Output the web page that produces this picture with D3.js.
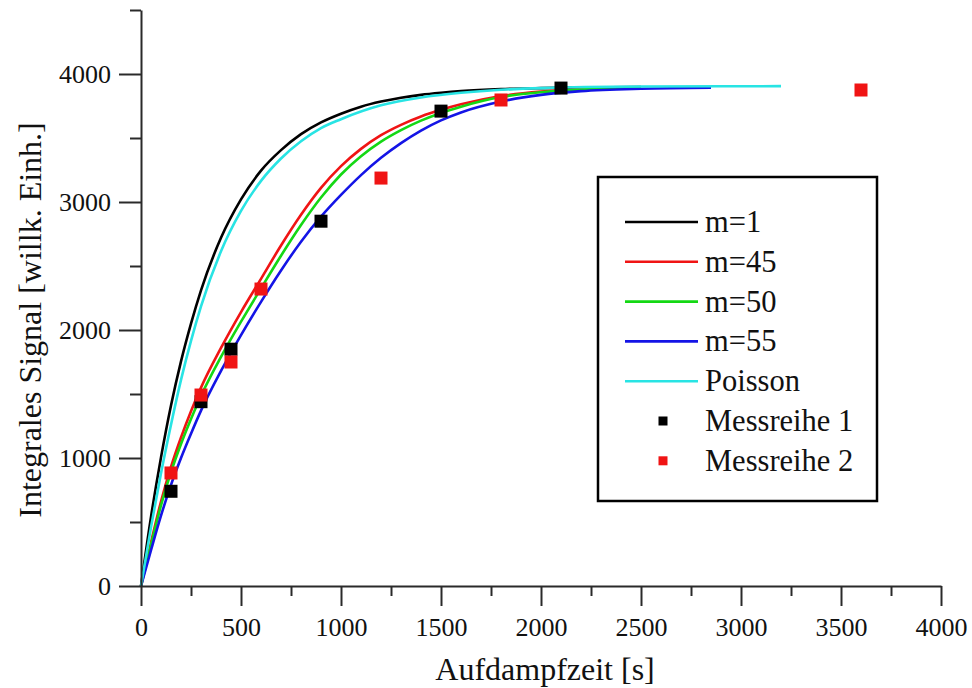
<!DOCTYPE html>
<html>
<head>
<meta charset="utf-8">
<script src="https://cdn.jsdelivr.net/npm/d3@7"></script>
<style>
  html, body { margin: 0; padding: 0; background: #fff; }
  svg { display: block; }
  svg text { font-family: "Liberation Serif", "Times New Roman", serif; }
</style>
</head>
<body>
<svg id="chart" width="972" height="688"></svg>
<script>
// ---- data ----
const timeGrid   = [0, 50, 100, 150, 200, 250, 300, 400, 500, 600, 700, 800, 900, 1000, 1100, 1200, 1300, 1400, 1500, 1600, 1800, 2000, 2200, 2500];
const m1Values   = [0, 540, 1005, 1410, 1755, 2050, 2310, 2720, 3020, 3245, 3405, 3530, 3622, 3690, 3745, 3785, 3815, 3837, 3853, 3866, 3882, 3890, 3895, 3898];
const m45Values  = [0, 340, 660, 930, 1160, 1365, 1550, 1860, 2140, 2400, 2660, 2900, 3110, 3280, 3415, 3522, 3603, 3668, 3720, 3763, 3828, 3863, 3880, 3890];
const m50Values  = [0, 320, 630, 890, 1110, 1305, 1485, 1790, 2065, 2325, 2580, 2820, 3035, 3215, 3358, 3472, 3562, 3636, 3696, 3745, 3820, 3858, 3878, 3890];
const blueGrid   = [0, 50, 100, 150, 200, 250, 300, 400, 500, 600, 700, 800, 900, 1000, 1100, 1200, 1300, 1400, 1500, 1600, 1800, 2000, 2200, 2500, 2850];
const m55Values  = [0, 280, 550, 790, 1000, 1190, 1370, 1680, 1960, 2220, 2465, 2690, 2885, 3055, 3210, 3345, 3460, 3558, 3638, 3700, 3785, 3837, 3866, 3885, 3893];
const poissonGrid   = [0, 50, 100, 150, 200, 250, 300, 400, 500, 600, 700, 800, 900, 1000, 1200, 1400, 1600, 1800, 2000, 2500, 3200];
const poissonValues = [0, 460, 880, 1260, 1610, 1915, 2185, 2615, 2930, 3165, 3340, 3475, 3578, 3647, 3755, 3816, 3853, 3877, 3890, 3902, 3905];

const mess1X = [150, 300, 450, 900, 1500, 2100];
const mess1Y = [740, 1440, 1850, 2850, 3710, 3890];
const mess2X = [150, 300, 450, 600, 1200, 1800, 3600];
const mess2Y = [883, 1492, 1750, 2320, 3187, 3797, 3875];

const xMajorTicks = [0, 500, 1000, 1500, 2000, 2500, 3000, 3500, 4000];
const xMinorTicks = [250, 750, 1250, 1750, 2250, 2750, 3250, 3750];
const yMajorTicks = [0, 1000, 2000, 3000, 4000];
const yMinorTicks = [500, 1500, 2500, 3500, 4500];

const seriesNames  = ["m=1", "m=45", "m=50", "m=55", "Poisson"];
const seriesColors = ["#000000", "#f01414", "#14d814", "#1414e6", "#28e4e4"];
const pointNames   = ["Messreihe 1", "Messreihe 2"];
const pointColors  = ["#000000", "#f01414"];

const xTitle = "Aufdampfzeit [s]";
const yTitle = "Integrales Signal [willk. Einh.]";

// ---- chart ----
const FONT = '"Liberation Serif", "Times New Roman", serif';
const svg = d3.select("#chart");
const x = d3.scaleLinear().domain([0, 4000]).range([141, 941]);
const y = d3.scaleLinear().domain([0, 4500]).range([586, 10]);

const axisColor = "#2a2a2a";

// curves
const lines = [
  { name: seriesNames[0], color: seriesColors[0], xs: timeGrid, ys: m1Values },
  { name: seriesNames[1], color: seriesColors[1], xs: timeGrid, ys: m45Values },
  { name: seriesNames[2], color: seriesColors[2], xs: timeGrid, ys: m50Values },
  { name: seriesNames[3], color: seriesColors[3], xs: blueGrid, ys: m55Values },
  { name: seriesNames[4], color: seriesColors[4], xs: poissonGrid, ys: poissonValues }
];
const lineGen = d3.line().x(d => x(d[0])).y(d => y(d[1])).curve(d3.curveMonotoneX);
svg.append("g").selectAll("path").data(lines).join("path")
  .attr("d", s => lineGen(s.xs.map((v, i) => [v, s.ys[i]])))
  .attr("fill", "none")
  .attr("stroke", s => s.color)
  .attr("stroke-width", 2.6)
  .attr("stroke-linejoin", "round");

// points
const pts = [
  { color: pointColors[0], data: mess1X.map((v, i) => [v, mess1Y[i]]) },
  { color: pointColors[1], data: mess2X.map((v, i) => [v, mess2Y[i]]) }
];
const sq = 13;
pts.forEach(p => {
  svg.append("g").selectAll("rect").data(p.data).join("rect")
    .attr("x", d => x(d[0]) - sq / 2)
    .attr("y", d => y(d[1]) - sq / 2)
    .attr("width", sq).attr("height", sq)
    .attr("fill", p.color);
});

// axes
function styleAxis(g) {
  g.attr("font-family", FONT);
  g.select(".domain").attr("stroke", axisColor).attr("stroke-width", 2);
  g.selectAll(".tick line").attr("stroke", axisColor).attr("stroke-width", 2);
  g.selectAll(".tick text").attr("fill", "#111")
    .attr("font-family", FONT).attr("font-size", 26)
    .style("font-family", FONT).style("font-size", "26px");
}
const xAxisMajor = svg.append("g").attr("transform", "translate(0,586)")
  .call(d3.axisBottom(x).tickValues(xMajorTicks).tickSize(20).tickPadding(12).tickSizeOuter(0).tickFormat(d3.format("d")));
styleAxis(xAxisMajor);
const xAxisMinor = svg.append("g").attr("transform", "translate(0,586)")
  .call(d3.axisBottom(x).tickValues(xMinorTicks).tickSize(10).tickSizeOuter(0).tickFormat(""));
styleAxis(xAxisMinor);
xAxisMinor.select(".domain").remove();

const yAxisMajor = svg.append("g").attr("transform", "translate(141,0)")
  .call(d3.axisLeft(y).tickValues(yMajorTicks).tickSize(22).tickPadding(8).tickSizeOuter(0).tickFormat(d3.format("d")));
styleAxis(yAxisMajor);
const yAxisMinor = svg.append("g").attr("transform", "translate(141,0)")
  .call(d3.axisLeft(y).tickValues(yMinorTicks).tickSize(11).tickSizeOuter(0).tickFormat(""));
styleAxis(yAxisMinor);
yAxisMinor.select(".domain").remove();

// axis titles
svg.append("text")
  .attr("x", 545).attr("y", 680)
  .attr("text-anchor", "middle")
  .style("font-family", FONT).style("font-size", "32px").attr("fill", "#111")
  .text(xTitle);
svg.append("text")
  .attr("transform", "translate(41,320) rotate(-90)")
  .attr("text-anchor", "middle")
  .style("font-family", FONT).style("font-size", "32px").attr("fill", "#111")
  .text(yTitle);

// legend
const legend = svg.append("g");
legend.append("rect")
  .attr("x", 598).attr("y", 177).attr("width", 279).attr("height", 324)
  .attr("fill", "#fff").attr("stroke", "#000").attr("stroke-width", 2.5);
const rowY = d => 222 + d * 39.8;
lines.forEach((s, i) => {
  legend.append("line")
    .attr("x1", 625).attr("x2", 698).attr("y1", rowY(i)).attr("y2", rowY(i))
    .attr("stroke", s.color).attr("stroke-width", 2.6);
  legend.append("text").attr("x", 705).attr("y", rowY(i) + 10)
    .style("font-family", FONT).style("font-size", "30.5px").attr("fill", "#111").text(s.name);
});
pointNames.forEach((n, j) => {
  const i = lines.length + j;
  legend.append("rect")
    .attr("x", 663 - 4.5).attr("y", rowY(i) - 4.5).attr("width", 9).attr("height", 9)
    .attr("fill", pointColors[j]);
  legend.append("text").attr("x", 705).attr("y", rowY(i) + 10)
    .style("font-family", FONT).style("font-size", "30.5px").attr("fill", "#111").text(n);
});
</script>
</body>
</html>
